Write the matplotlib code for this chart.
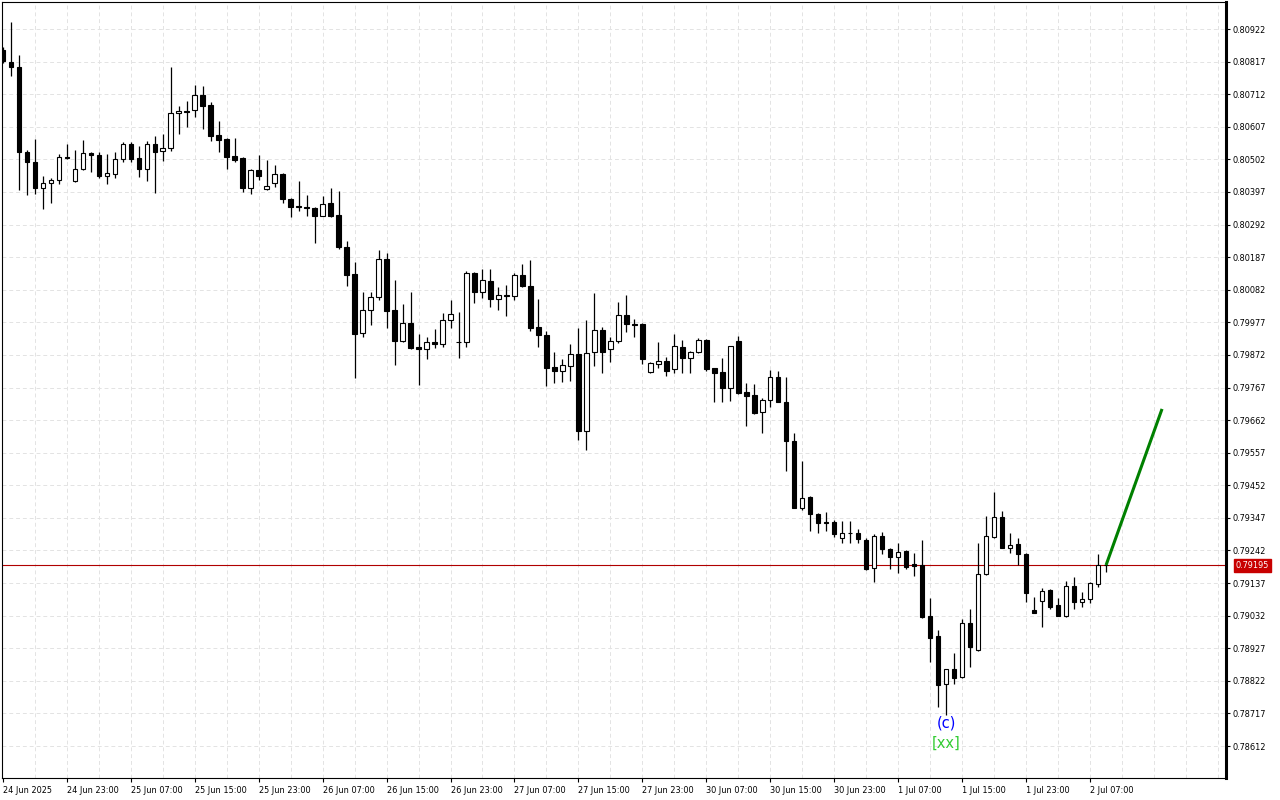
#!/usr/bin/env python3
"""Hourly candles with wave label and projection line (MT-style chart)."""

import matplotlib
matplotlib.use("Agg")
import matplotlib.pyplot as plt
import matplotlib.transforms as mtransforms
import pandas as pd

# ── Data: H1 candles, 24 Jun 2025 15:00 .. 2 Jul 2025 09:00 ──
opens = [0.80854, 0.80817, 0.80801, 0.80525, 0.80494, 0.80410, 0.80426, 0.80436, 0.80511, 0.80432,
         0.80471, 0.80523, 0.80516, 0.80449, 0.80455, 0.80503, 0.80552, 0.80506, 0.80471, 0.80552,
         0.80529, 0.80539, 0.80651, 0.80658, 0.80661, 0.80709, 0.80677, 0.80581, 0.80568, 0.80513,
         0.80506, 0.80410, 0.80468, 0.80407, 0.80426, 0.80455, 0.80374, 0.80352, 0.80348, 0.80345,
         0.80320, 0.80361, 0.80323, 0.80220, 0.80133, 0.79943, 0.80017, 0.80059, 0.80181, 0.80017,
         0.79917, 0.79975, 0.79897, 0.79891, 0.79914, 0.79907, 0.79984, 0.79915, 0.79914, 0.80136,
         0.80075, 0.80110, 0.80052, 0.80065, 0.80062, 0.80129, 0.80094, 0.79962, 0.79936, 0.79833,
         0.79820, 0.79836, 0.79875, 0.79627, 0.79881, 0.79952, 0.79891, 0.79917, 0.80001, 0.79973,
         0.79972, 0.79817, 0.79843, 0.79852, 0.79827, 0.79897, 0.79862, 0.79881, 0.79920, 0.79830,
         0.79817, 0.79765, 0.79917, 0.79753, 0.79743, 0.79688, 0.79727, 0.79801, 0.79720, 0.79595,
         0.79379, 0.79414, 0.79359, 0.79335, 0.79334, 0.79282, 0.79298, 0.79298, 0.79276, 0.79185,
         0.79289, 0.79247, 0.79221, 0.79240, 0.79197, 0.79195, 0.79031, 0.78966, 0.78812, 0.78860,
         0.78834, 0.79008, 0.78921, 0.79166, 0.79285, 0.79350, 0.79250, 0.79263, 0.79231, 0.79050,
         0.79079, 0.79115, 0.79066, 0.79031, 0.79127, 0.79077, 0.79086, 0.79134, 0.79195]
highs = [0.80864, 0.80946, 0.80838, 0.80532, 0.80568, 0.80448, 0.80443, 0.80518, 0.80552, 0.80532,
         0.80564, 0.80527, 0.80527, 0.80519, 0.80525, 0.80559, 0.80559, 0.80545, 0.80561, 0.80577,
         0.80584, 0.80801, 0.80674, 0.80690, 0.80742, 0.80738, 0.80688, 0.80627, 0.80570, 0.80570,
         0.80509, 0.80471, 0.80516, 0.80500, 0.80484, 0.80459, 0.80378, 0.80432, 0.80387, 0.80348,
         0.80384, 0.80411, 0.80400, 0.80239, 0.80172, 0.80074, 0.80074, 0.80210, 0.80200, 0.80113,
         0.80036, 0.80074, 0.79938, 0.79931, 0.79955, 0.80006, 0.80049, 0.80011, 0.80142, 0.80139,
         0.80149, 0.80149, 0.80090, 0.80097, 0.80135, 0.80164, 0.80178, 0.80051, 0.79949, 0.79880,
         0.79859, 0.79907, 0.79960, 0.79984, 0.80070, 0.79961, 0.79929, 0.80041, 0.80065, 0.79987,
         0.79974, 0.79849, 0.79915, 0.79866, 0.79939, 0.79920, 0.79886, 0.79925, 0.79922, 0.79831,
         0.79863, 0.79902, 0.79934, 0.79782, 0.79778, 0.79732, 0.79823, 0.79820, 0.79802, 0.79619,
         0.79530, 0.79416, 0.79364, 0.79367, 0.79340, 0.79337, 0.79337, 0.79310, 0.79281, 0.79294,
         0.79302, 0.79249, 0.79265, 0.79243, 0.79233, 0.79276, 0.79090, 0.78986, 0.78861, 0.78911,
         0.79020, 0.79053, 0.79265, 0.79353, 0.79431, 0.79370, 0.79297, 0.79283, 0.79233, 0.79093,
         0.79120, 0.79118, 0.79088, 0.79144, 0.79157, 0.79107, 0.79141, 0.79231, 0.79197]
lows = [0.80812, 0.80772, 0.80403, 0.80387, 0.80390, 0.80342, 0.80361, 0.80422, 0.80502, 0.80430,
        0.80468, 0.80462, 0.80441, 0.80423, 0.80441, 0.80494, 0.80494, 0.80446, 0.80433, 0.80395,
        0.80498, 0.80530, 0.80584, 0.80605, 0.80638, 0.80600, 0.80562, 0.80527, 0.80470, 0.80494,
        0.80398, 0.80390, 0.80436, 0.80403, 0.80412, 0.80362, 0.80316, 0.80337, 0.80321, 0.80232,
        0.80318, 0.80315, 0.80212, 0.80094, 0.79798, 0.79931, 0.79968, 0.80049, 0.79959, 0.79839,
        0.79915, 0.79892, 0.79775, 0.79858, 0.79893, 0.79898, 0.79958, 0.79861, 0.79898, 0.80040,
        0.80056, 0.80027, 0.80017, 0.79997, 0.80050, 0.80092, 0.79949, 0.79897, 0.79772, 0.79782,
        0.79784, 0.79788, 0.79598, 0.79566, 0.79836, 0.79813, 0.79850, 0.79911, 0.79947, 0.79931,
        0.79843, 0.79813, 0.79831, 0.79805, 0.79813, 0.79813, 0.79813, 0.79877, 0.79821, 0.79721,
        0.79721, 0.79725, 0.79746, 0.79643, 0.79682, 0.79620, 0.79705, 0.79719, 0.79499, 0.79378,
        0.79372, 0.79306, 0.79297, 0.79306, 0.79286, 0.79265, 0.79267, 0.79265, 0.79179, 0.79141,
        0.79230, 0.79181, 0.79170, 0.79181, 0.79161, 0.79025, 0.78882, 0.78739, 0.78712, 0.78811,
        0.78832, 0.78868, 0.78918, 0.79163, 0.79283, 0.79249, 0.79233, 0.79195, 0.79075, 0.79039,
        0.78996, 0.79052, 0.79030, 0.79027, 0.79053, 0.79061, 0.79074, 0.79123, 0.79174]
closes = [0.80819, 0.80801, 0.80525, 0.80494, 0.80410, 0.80426, 0.80436, 0.80510, 0.80505, 0.80471,
          0.80523, 0.80516, 0.80448, 0.80457, 0.80503, 0.80552, 0.80503, 0.80471, 0.80552, 0.80526,
          0.80539, 0.80651, 0.80658, 0.80656, 0.80709, 0.80675, 0.80577, 0.80564, 0.80510, 0.80500,
          0.80410, 0.80468, 0.80448, 0.80416, 0.80455, 0.80374, 0.80349, 0.80349, 0.80344, 0.80320,
          0.80358, 0.80320, 0.80220, 0.80129, 0.79939, 0.80017, 0.80059, 0.80181, 0.80013, 0.79917,
          0.79975, 0.79894, 0.79891, 0.79914, 0.79907, 0.79984, 0.80004, 0.79914, 0.80136, 0.80075,
          0.80113, 0.80052, 0.80065, 0.80063, 0.80129, 0.80094, 0.79959, 0.79936, 0.79830, 0.79820,
          0.79839, 0.79875, 0.79627, 0.79878, 0.79952, 0.79881, 0.79917, 0.80001, 0.79972, 0.79969,
          0.79859, 0.79846, 0.79852, 0.79820, 0.79901, 0.79862, 0.79881, 0.79920, 0.79827, 0.79814,
          0.79765, 0.79901, 0.79749, 0.79740, 0.79685, 0.79727, 0.79801, 0.79720, 0.79595, 0.79379,
          0.79411, 0.79359, 0.79330, 0.79329, 0.79295, 0.79298, 0.79297, 0.79279, 0.79182, 0.79289,
          0.79247, 0.79221, 0.79237, 0.79189, 0.79193, 0.79028, 0.78960, 0.78809, 0.78860, 0.78831,
          0.79008, 0.78931, 0.79166, 0.79289, 0.79350, 0.79250, 0.79260, 0.79231, 0.79105, 0.79040,
          0.79111, 0.79060, 0.79031, 0.79127, 0.79076, 0.79085, 0.79137, 0.79195, 0.79195]

# projection line (bar index, price)
proj_idx = [138, 145]
proj_price = [0.79195, 0.79698]

# wave labels under the low
wave_idx = 118
wave_texts = ["(c)", "[xx]"]
wave_prices = [0.78686, 0.78622]
wave_colors = ["#0000ff", "#33cc33"]

# price scale
y_top_tick = 0.80922
y_step = 0.00105
n_yticks = 23

# ── time axis: hourly bars, weekend skipped ──
times = pd.date_range("2025-06-24 15:00", "2025-06-27 23:00", freq="h").append(
    pd.date_range("2025-06-30 00:00", "2025-07-02 09:00", freq="h"))

GRID = "#e3e3e3"
TICK_FS = 5.9

fig = plt.figure(figsize=(12.8, 8), dpi=100)
ax = fig.add_axes([2 / 1280, 22 / 800, 1224 / 1280, 776 / 800])

n = len(closes)
ax.set_xlim(-0.1, 153.0)
ax.set_ylim(0.78509, 0.81009)

# grid
yticks = [round(y_top_tick - k * y_step, 5) for k in range(n_yticks)]
for yt in yticks:
    ax.axhline(yt, color=GRID, lw=0.7, ls=(0, (4, 3)), zorder=0)
for xv in range(4, 153, 4):
    ax.axvline(xv, color=GRID, lw=0.7, ls=(0, (4, 3)), zorder=0)

# candles
for i in range(n):
    o, h, l, c = opens[i], highs[i], lows[i], closes[i]
    ax.vlines(i, l, h, color="black", lw=0.9, zorder=2)
    bottom = min(o, c)
    height = max(abs(c - o), 0.000008)
    face = "white" if c > o else "black"
    ax.bar(i, height, bottom=bottom, width=0.55, color=face,
           edgecolor="black", linewidth=0.8, zorder=3)

# current price line + label
last = closes[-1]
ax.axhline(last, color="#b00000", lw=0.8, zorder=1)
trans = mtransforms.blended_transform_factory(ax.transAxes, ax.transData)
ax.annotate(f"{last:.5f}", xy=(1.0, last), xycoords=trans,
            xytext=(7, 0), textcoords="offset points", ha="left", va="center",
            fontsize=TICK_FS, color="white", annotation_clip=False,
            bbox=dict(boxstyle="square,pad=0.25", fc="#c80000", ec="#c80000"))

# projection
ax.plot(proj_idx, proj_price, color="#008000", lw=2.2, solid_capstyle="butt", zorder=4)

# wave labels
for txt, yp, col in zip(wave_texts, wave_prices, wave_colors):
    ax.text(wave_idx, yp, txt, color=col, fontsize=10.5, ha="center", va="center", zorder=5)

# axes styling
for side in ["top", "left", "bottom"]:
    ax.spines[side].set_linewidth(0.8)
    ax.spines[side].set_color("black")
ax.spines["right"].set_linewidth(2.2)

ax.yaxis.tick_right()
ax.set_yticks(yticks)
ax.set_yticklabels([f"{v:.5f}" for v in yticks])
ax.tick_params(axis="y", direction="out", length=3, width=0.8, pad=2, labelsize=TICK_FS)

xt = list(range(0, n, 8))
xl = [times[0].strftime("%-d %b %Y")] + [times[i].strftime("%-d %b %H:%M") for i in xt[1:]]
ax.set_xticks(xt)
ax.set_xticklabels(xl, ha="left")
ax.tick_params(axis="x", direction="out", length=3, width=0.8, pad=3, labelsize=TICK_FS)

fig.savefig("out.png", dpi=100, facecolor="white")
